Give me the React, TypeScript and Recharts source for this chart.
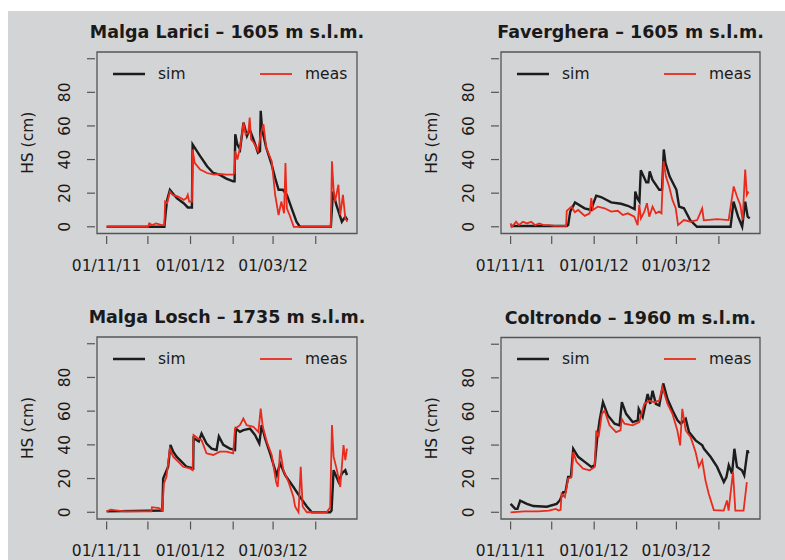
import React from "react";
import { Legend, Line, LineChart, ReferenceArea, XAxis, YAxis } from "recharts";

type Pt = [number, number];

// days since 01/11/11
const xTickDays = [0, 30, 61, 92, 121, 152];
const xTickLabels = ["01/11/11", "", "01/01/12", "", "01/03/12", ""];
const yTicks = [0, 20, 40, 60, 80, 100];
const yTickLabels = ["0", "20", "40", "60", "80", ""];
const seriesNames = ["sim", "meas"];

const lariciSim: Pt[] = [
	[0, 0], [42, 0], [43, 9], [44, 16], [46, 22], [51, 17], [56, 14], [59, 11.5], [62, 11.5],
	[62.5, 49], [68, 42], [73, 36], [77.5, 32], [82, 31], [87, 28.7], [92, 27], [93, 27],
	[93.5, 55], [95, 49], [97, 46], [99.5, 62], [102, 54], [104, 58], [108, 49], [110, 44],
	[111.5, 45], [112, 69], [113, 58], [116, 47], [120, 37], [122.5, 29], [125, 22], [128, 22],
	[131, 19], [134.5, 11], [138, 3], [140.5, 0], [163, 0], [164.5, 21], [167, 13], [171, 3],
	[173.5, 6], [175, 4],
];
const lariciMeas: Pt[] = [
	[0, 0], [30, 0], [31, 2], [33, 1], [36, 2], [40, 1], [42, 1], [42.5, 15], [44, 14], [46, 21],
	[48, 19], [52, 18], [56, 16], [58, 17], [59, 19], [60, 15], [62, 15], [62.5, 46], [64, 38],
	[68, 34], [73, 32], [78, 31], [82, 31.5], [87, 31], [92, 31], [93, 32], [93.5, 45], [95, 40],
	[97, 47], [99.5, 62], [101, 55], [103, 56], [104, 65], [105, 52], [107, 50], [110, 45],
	[112, 55], [114, 61], [116, 47], [120, 39], [122.5, 19], [125, 7], [127, 15], [129, 8],
	[130, 38], [131, 11], [133, 7], [136, 0], [163, 0], [163.8, 39], [165, 22], [166, 15],
	[168.5, 25], [169.8, 7], [171.8, 19], [173.5, 5], [175, 3],
];

const favergheraSim: Pt[] = [
	[0, 0.5], [41, 0.5], [42, 1], [43.5, 9], [47, 14.5], [54, 11], [58.9, 10], [60, 13],
	[62.5, 18.5], [66, 17.7], [73.4, 14.5], [80.6, 13.7], [85.5, 12.5], [90.5, 10.5], [91, 21],
	[92.5, 17], [94, 15], [95, 33.6], [97, 30], [99, 26.5], [100.5, 26.5], [101.5, 33],
	[103.5, 28], [108.5, 22], [110.5, 22], [111.8, 46], [113, 38], [116, 30], [121, 22],
	[123, 12], [126.5, 11], [131, 4], [136, 0], [160.5, 0], [162.7, 15], [166, 6], [169, 0],
	[171.2, 15], [173, 6], [174.5, 5],
];
const favergheraMeas: Pt[] = [
	[0, 2], [1, 0], [4, 3], [6, 1], [9, 3], [12, 2], [15, 3], [18, 1], [21, 2], [24, 1],
	[28, 1], [32, 0.5], [36, 0.5], [40.5, 0.5], [41, 9.5], [44.4, 12], [46.9, 8.7], [49.3, 10],
	[54.1, 6.5], [57.7, 8], [58.9, 17], [60.1, 10], [63.7, 12], [68.6, 11], [73.4, 9],
	[78.2, 9.5], [81.9, 7], [85.5, 8], [90.3, 6], [92.7, 1], [93.9, 13], [95.1, 5], [97.6, 9],
	[99.5, 14], [101.2, 6], [103.6, 12], [106, 8], [108.4, 9], [110.1, 8], [111.6, 39],
	[113.3, 30], [115.7, 24], [118.1, 16], [120.5, 11], [122.2, 1], [126.5, 4], [131.4, 3],
	[136.2, 4], [139.8, 11], [141, 3.8], [150.7, 4.6], [159.1, 4], [162.8, 24], [165.2, 18],
	[167.6, 13], [169.3, 4], [171.2, 34], [172.4, 19], [173.6, 21],
];

const loschSim: Pt[] = [
	[0, 0.5], [40.5, 1], [41.1, 20], [44.7, 27], [46.4, 40], [48.4, 36], [50.8, 33],
	[54.4, 30], [58.1, 27], [62.9, 26], [63.2, 44], [67, 42], [69, 46.7], [72.6, 40.8],
	[76.3, 37.8], [79.9, 37], [81.6, 45], [84.8, 40], [89.6, 37.8], [93.3, 37], [94, 49.6],
	[96.9, 47.7], [99.4, 48.7], [104.2, 49.6], [107.9, 45.8], [111, 40.8], [112.7, 51.7],
	[115.2, 43.8], [118.8, 35], [122.5, 25], [123.7, 22], [126.1, 29], [129.8, 22],
	[135.8, 15], [140.7, 9], [145.5, 3.4], [149.2, 0], [162.5, 0], [163.5, 1], [165, 25],
	[168.6, 18], [171, 23], [173.5, 25], [174.7, 22],
];
const loschMeas: Pt[] = [
	[0, 0.5], [3, 1.5], [8, 1], [14, 0.5], [22, 0.5], [32.5, 0.5], [33, 3], [38, 2.5],
	[40.5, 1], [41.6, 17], [43.5, 21], [46, 37.8], [48.4, 33], [52, 30], [55.6, 27],
	[60.5, 26], [62.5, 25], [63.2, 45.8], [66.5, 43.8], [69, 42.8], [72.6, 35], [77.5, 34],
	[82.4, 36], [87.2, 36], [92, 35], [93.3, 49.6], [96.9, 51.7], [99.4, 55.6], [101.8, 51.7],
	[106.7, 50.7], [110.3, 47.7], [112, 61.5], [113.5, 50.7], [116.4, 41.8], [120, 34],
	[123.2, 18], [124.4, 15], [126.1, 37], [128.5, 25], [132.2, 18], [135.8, 9], [137, 3.4],
	[139.5, 0], [141.1, 27], [142.5, 3.4], [145.5, 0], [160, 0], [162.5, 3], [163.8, 51.7],
	[165, 33], [167.4, 25], [169.8, 15], [172.2, 39.8], [173.5, 31], [174.7, 37.8],
];

const coltrondoSim: Pt[] = [
	[0, 5], [3.4, 2], [5, 2], [7, 6.9], [11.9, 5], [16.7, 3.7], [26.4, 3.3], [33.6, 5],
	[36, 7.2], [38.4, 12], [40, 12], [42, 21], [44, 21], [45.7, 37.8], [49.3, 33], [54.1, 30],
	[58.9, 27], [61.4, 28], [63.3, 45], [65, 55], [67.4, 65.5], [71, 57.6], [75.9, 52.7],
	[79.5, 51.7], [81.2, 65.5], [84.3, 58.6], [89.1, 53.7], [92.8, 54.7], [93.5, 61.5],
	[96.4, 56.6], [100, 70.4], [101.9, 64.5], [103.6, 72.3], [106, 64.5], [108.5, 63.5],
	[111.4, 76.7], [114.5, 67.4], [118.2, 60.5], [121.8, 54.7], [124.2, 52.7], [127.8, 55.6],
	[130.2, 47.7], [135, 42.8], [139.9, 39.8], [141.1, 37.8], [145.9, 33], [150.7, 27],
	[155.6, 18], [157.5, 21], [159.2, 28], [161.6, 23], [163.3, 37.8], [165.2, 27],
	[168.8, 25], [170.5, 22], [172.9, 36.9], [173.6, 35],
];
const coltrondoMeas: Pt[] = [
	[0, 0], [10, 0.5], [20, 0.5], [28, 1], [33, 2], [35, 1], [36.5, 1.5], [37.2, 11],
	[39.6, 9], [42, 20], [44.4, 21], [45.7, 35.9], [48.1, 30], [52.9, 26], [57.7, 25],
	[61.4, 27], [62.5, 48.7], [64.2, 44.7], [66.6, 58.6], [68.6, 60.5], [72.2, 51.7],
	[77, 47.7], [80.2, 48.7], [81.1, 55.6], [83.1, 52.7], [89.1, 51.7], [93.9, 53.7],
	[97.6, 64.5], [101.2, 66.4], [104.8, 65.5], [108.4, 66.4], [110.8, 74.4], [114.5, 64.5],
	[118.1, 58.6], [121.7, 48.7], [123.7, 39.8], [125.3, 61.5], [127.8, 48.7], [131.4, 44.7],
	[135, 35.9], [137.4, 27], [139.8, 31], [142.2, 19], [144.6, 11], [148.3, 1.3],
	[155.5, 1], [157.9, 7], [159.1, 1], [162.3, 24], [164, 1], [170, 1], [172.4, 18],
];

const FONT = '"DejaVu Sans", "Liberation Sans", sans-serif';
const INK = "#1a1a1a";
const AXIS = "#555555";
const BG = "#d3d4d6";
const SIM_COLOR = "#1c1c1c";
const MEAS_COLOR = "#ea2a1c";
const X_DOMAIN: [number, number] = [-7, 182];
const Y_DOMAIN: [number, number] = [-4, 104];

const W = 392;
const H = 285;
const Y_AXIS_W = 90;
const X_AXIS_H = 40;

const toRows = (pts: Pt[]) => pts.map(([day, hs]) => ({ day, hs }));

const YTick = (props: any) => {
	const { x, y, payload } = props;
	const label = yTickLabels[yTicks.indexOf(payload.value)] ?? "";
	const tx = x - 26.5;
	return (
		<g>
			<line x1={x - 10} x2={x - 2} y1={y} y2={y} stroke={AXIS} strokeWidth={1.2} />
			{label && (
				<text
					x={tx}
					y={y}
					transform={`rotate(-90 ${tx} ${y})`}
					textAnchor="middle"
					fontFamily={FONT}
					fontSize={15.5}
					fill={INK}
				>
					{label}
				</text>
			)}
		</g>
	);
};

const XTick = (props: any) => {
	const { x, y, payload } = props;
	const label = xTickLabels[xTickDays.indexOf(payload.value)] ?? "";
	return (
		<g>
			<line x1={x} x2={x} y1={y + 2.5} y2={y + 10.5} stroke={AXIS} strokeWidth={1.2} />
			{label && (
				<text x={x} y={y + 37} textAnchor="middle" fontFamily={FONT} fontSize={15.5} fill={INK}>
					{label}
				</text>
			)}
		</g>
	);
};

const YLabel = (props: any) => {
	const { viewBox } = props;
	const x = viewBox.x + 26;
	const y = viewBox.y + viewBox.height / 2;
	return (
		<text
			x={x}
			y={y}
			transform={`rotate(-90 ${x} ${y})`}
			textAnchor="middle"
			fontFamily={FONT}
			fontSize={15.5}
			fill={INK}
		>
			HS (cm)
		</text>
	);
};

const renderLegend = (props: any) => {
	const items = [...props.payload].sort(
		(a: any, b: any) => seriesNames.indexOf(a.value) - seriesNames.indexOf(b.value),
	);
	return (
		<div style={{ position: "relative", width: 250, height: 20, fontFamily: FONT, fontSize: 15.5, color: INK }}>
			{items.map((p: any, i: number) => (
				<div
					key={p.value}
					style={{ position: "absolute", left: i === 0 ? 0 : 147, top: 0, height: 20, display: "flex", alignItems: "center" }}
				>
					<svg width={32} height={20}>
						<line x1={0} x2={32} y1={10} y2={10} stroke={p.color} strokeWidth={i === 0 ? 2.5 : 1.8} />
					</svg>
					<span style={{ marginLeft: 13, lineHeight: "20px" }}>{p.value}</span>
				</div>
			))}
		</div>
	);
};

type PanelProps = {
	title: string;
	sim: Pt[];
	meas: Pt[];
	left: number;
	top: number;
	plot: { x0: number; y0: number; x1: number; y1: number };
};

const Panel: React.FC<PanelProps> = ({ title, sim, meas, left, top, plot }) => {
	const pl = plot.x0 - left;
	const pt = plot.y0 - top;
	const pr = plot.x1 - left;
	const pb = plot.y1 - top;
	return (
		<div style={{ position: "absolute", left, top, width: W, height: H }}>
			<LineChart
				width={W}
				height={H}
				margin={{ left: pl - Y_AXIS_W, top: pt, right: W - pr, bottom: H - pb - X_AXIS_H }}
			>
				<text
					x={(pl + pr) / 2}
					y={pt - 14}
					textAnchor="middle"
					fontFamily={FONT}
					fontWeight="bold"
					fontSize={17.5}
					fill={INK}
				>
					{title}
				</text>
				<XAxis
					type="number"
					dataKey="day"
					domain={X_DOMAIN}
					allowDataOverflow
					ticks={xTickDays}
					interval={0}
					height={X_AXIS_H}
					axisLine={false}
					tickLine={false}
					tickSize={0}
					tickMargin={0}
					tick={<XTick />}
				/>
				<YAxis
					type="number"
					domain={Y_DOMAIN}
					allowDataOverflow
					ticks={yTicks}
					interval={0}
					width={Y_AXIS_W}
					axisLine={false}
					tickLine={false}
					tickSize={0}
					tickMargin={0}
					tick={<YTick />}
					label={<YLabel />}
				/>
				<ReferenceArea
					x1={X_DOMAIN[0]}
					x2={X_DOMAIN[1]}
					y1={Y_DOMAIN[0]}
					y2={Y_DOMAIN[1]}
					fill="none"
					stroke={AXIS}
					strokeWidth={1.3}
				/>
				<Legend
					layout="horizontal"
					verticalAlign="middle"
					align="center"
					content={renderLegend}
					wrapperStyle={{ left: pl + 16, top: pt + 11.5, width: 250, height: 20 }}
				/>
				<Line
					data={toRows(sim)}
					dataKey="hs"
					name="sim"
					type="linear"
					stroke={SIM_COLOR}
					strokeWidth={2.4}
					dot={false}
					activeDot={false}
					isAnimationActive={false}
				/>
				<Line
					data={toRows(meas)}
					dataKey="hs"
					name="meas"
					type="linear"
					stroke={MEAS_COLOR}
					strokeWidth={1.8}
					dot={false}
					activeDot={false}
					isAnimationActive={false}
				/>
			</LineChart>
		</div>
	);
};

export default function App() {
	return (
		<div style={{ position: "absolute", left: 0, top: 0, width: 785, height: 560, background: "#ffffff", overflow: "hidden" }}>
			<div style={{ position: "absolute", left: 8, top: 11, width: 777, height: 549, background: BG }} />
			<Panel
				title="Malga Larici – 1605 m s.l.m."
				sim={lariciSim}
				meas={lariciMeas}
				left={0}
				top={0}
				plot={{ x0: 97, y0: 52, x1: 357, y1: 233.5 }}
			/>
			<Panel
				title="Faverghera – 1605 m s.l.m."
				sim={favergheraSim}
				meas={favergheraMeas}
				left={393}
				top={0}
				plot={{ x0: 501, y0: 52, x1: 760, y1: 233.5 }}
			/>
			<Panel
				title="Malga Losch – 1735 m s.l.m."
				sim={loschSim}
				meas={loschMeas}
				left={0}
				top={285}
				plot={{ x0: 97, y0: 337, x1: 357, y1: 519 }}
			/>
			<Panel
				title="Coltrondo – 1960 m s.l.m."
				sim={coltrondoSim}
				meas={coltrondoMeas}
				left={393}
				top={285}
				plot={{ x0: 501, y0: 337.5, x1: 760, y1: 519 }}
			/>
		</div>
	);
}
